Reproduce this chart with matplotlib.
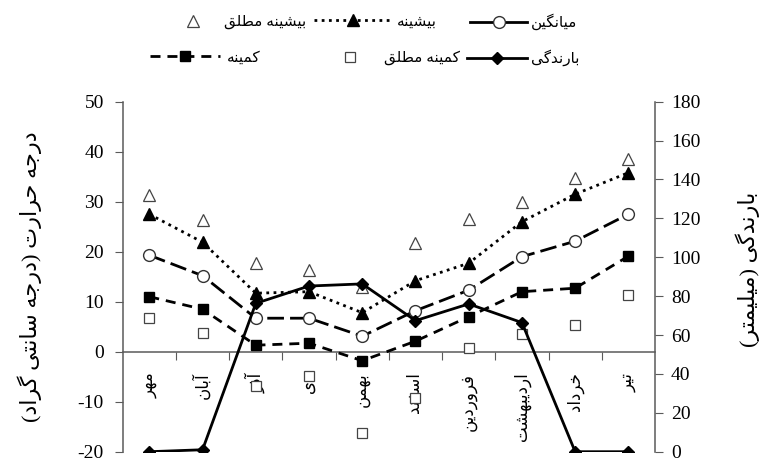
import matplotlib
matplotlib.use("Agg")
import matplotlib.pyplot as plt
from matplotlib.lines import Line2D

# Monthly climate data (temperatures in deg C, rainfall in mm)
months = ['مهر', 'آبان', 'آذر', 'دی', 'بهمن', 'اسفند', 'فروردین', 'اردیبهشت', 'خرداد', 'تیر']
abs_max = [31.3, 26.3, 17.8, 16.3, 13.0, 21.8, 26.5, 30.0, 34.8, 38.5]
t_max = [27.5, 21.9, 11.7, 12.0, 7.8, 14.2, 17.7, 26.0, 31.5, 35.8]
t_mean = [19.3, 15.2, 6.7, 6.7, 3.1, 8.2, 12.3, 19.0, 22.1, 27.5]
t_min = [11.0, 8.5, 1.3, 1.7, -1.8, 2.1, 7.0, 12.0, 12.7, 19.1]
abs_min = [6.8, 3.8, -6.9, -4.8, -16.3, -9.3, 0.8, 3.5, 5.3, 11.3]
rain = [0, 1, 76.3, 85.2, 86.3, 67.4, 76.0, 66.4, 0, 0]

left_title = 'درجه حرارت (درجه سانتی گراد)'
right_title = 'بارندگی (میلیمتر)'
names = ['میانگین', 'بیشینه', 'بیشینه مطلق', 'بارندگی', 'کمینه مطلق', 'کمینه']

# matplotlib does no arabic shaping, so pick presentation forms by hand
FORMS = {
    'ا': (0xFE8D, 0xFE8E), 'آ': (0xFE81, 0xFE82),
    'ب': (0xFE8F, 0xFE90, 0xFE91, 0xFE92), 'ت': (0xFE95, 0xFE96, 0xFE97, 0xFE98),
    'ج': (0xFE9D, 0xFE9E, 0xFE9F, 0xFEA0), 'ح': (0xFEA1, 0xFEA2, 0xFEA3, 0xFEA4),
    'خ': (0xFEA5, 0xFEA6, 0xFEA7, 0xFEA8), 'د': (0xFEA9, 0xFEAA),
    'ذ': (0xFEAB, 0xFEAC), 'ر': (0xFEAD, 0xFEAE), 'ز': (0xFEAF, 0xFEB0),
    'س': (0xFEB1, 0xFEB2, 0xFEB3, 0xFEB4), 'ش': (0xFEB5, 0xFEB6, 0xFEB7, 0xFEB8),
    'ط': (0xFEC1, 0xFEC2, 0xFEC3, 0xFEC4), 'ف': (0xFED1, 0xFED2, 0xFED3, 0xFED4),
    'ق': (0xFED5, 0xFED6, 0xFED7, 0xFED8), 'ک': (0xFB8E, 0xFB8F, 0xFB90, 0xFB91),
    'گ': (0xFB92, 0xFB93, 0xFB94, 0xFB95), 'ل': (0xFEDD, 0xFEDE, 0xFEDF, 0xFEE0),
    'م': (0xFEE1, 0xFEE2, 0xFEE3, 0xFEE4), 'ن': (0xFEE5, 0xFEE6, 0xFEE7, 0xFEE8),
    'ه': (0xFEE9, 0xFEEA, 0xFEEB, 0xFEEC), 'و': (0xFEED, 0xFEEE),
    'ی': (0xFBFC, 0xFBFD, 0xFBFE, 0xFBFF),
}


def fa(text):
    out = []
    for i, c in enumerate(text):
        f = FORMS.get(c)
        if f is None:
            out.append(c)
            continue
        prev = text[i - 1] if i > 0 else None
        nxt = text[i + 1] if i + 1 < len(text) else None
        jp = prev in FORMS and len(FORMS[prev]) == 4
        jn = len(f) == 4 and nxt in FORMS
        if jp and jn:
            g = f[3]
        elif jn:
            g = f[2]
        elif jp:
            g = f[1]
        else:
            g = f[0]
        out.append(chr(g))
    s = ''.join(reversed(out))
    return s.translate(str.maketrans('()', ')('))


plt.rcParams['font.family'] = ['Liberation Serif', 'DejaVu Sans']
plt.rcParams['axes.unicode_minus'] = False
W, H = 768, 461
fig = plt.figure(figsize=(W / 100, H / 100), dpi=100)
ax = fig.add_axes([122.7 / W, 1 - 451.7 / H, 532.3 / W, 350 / H])
ax2 = ax.twinx()

x = list(range(len(months)))
gray = '#5a5a5a'

ax.plot(x, t_max, color='black', lw=2, linestyle=(0, (1, 1.6)), marker='^',
        ms=8, mfc='black', mec='black', zorder=3)
ax.plot(x, t_mean, color='black', lw=2, linestyle=(0, (6, 2.2)), marker='o',
        ms=8.5, mfc='white', mec='#333333', mew=1, zorder=3)
ax.plot(x, t_min, color='black', lw=2, linestyle=(0, (3.6, 2.5)), marker='s',
        ms=7, mfc='black', mec='black', zorder=3)
ax.plot(x, abs_max, linestyle='none', marker='^', ms=8.5, mfc='white',
        mec='#444444', mew=0.9, zorder=3)
ax.plot(x, abs_min, linestyle='none', marker='s', ms=7, mfc='white',
        mec='#444444', mew=0.9, zorder=3)
ax2.plot(x, rain, color='black', lw=2, marker='D', ms=6, mfc='black', zorder=3)

ax.set_xlim(-0.5, len(months) - 0.5)
ax.set_ylim(-20, 50)
ax.set_yticks(range(-20, 51, 10))
ax2.set_ylim(0, 180)
ax2.set_yticks(range(0, 181, 20))

for s in ['top', 'right']:
    ax.spines[s].set_visible(False)
for s in ['top', 'left', 'bottom']:
    ax2.spines[s].set_visible(False)
ax.spines['bottom'].set_position(('data', 0))
for sp in [ax.spines['left'], ax.spines['bottom'], ax2.spines['right']]:
    sp.set_color(gray)
    sp.set_linewidth(1.1)

ax.set_xticks([i + 0.5 for i in x[:-1]])
ax.set_xticklabels([])
ax.set_xticks(x, [fa(m) for m in months], minor=True, rotation=90, fontsize=12)
ax.tick_params(axis='x', which='major', direction='out', length=6, color=gray)
ax.tick_params(axis='x', which='minor', length=0, pad=15)
ax.tick_params(axis='y', direction='out', length=5.5, color=gray, labelsize=14, pad=8)
ax2.tick_params(axis='y', direction='out', length=5.5, color=gray, labelsize=14, pad=6)
ax2.tick_params(axis='x', bottom=False, labelbottom=False)

ax.set_ylabel(fa(left_title), fontsize=16, va='center')
ax.yaxis.set_label_coords((30 - 122.7) / 532.3, 0.5)
ax2.set_ylabel(fa(right_title), fontsize=16, va='center', rotation=90)
ax2.yaxis.set_label_coords((748 - 122.7) / 532.3, 0.52)

# legend: one small legend per entry so the RTL layout can be matched
handles = [
    Line2D([], [], color='black', lw=2, marker='o', ms=8.5, mfc='white', mec='#333333'),
    Line2D([], [], color='black', lw=2, linestyle=(0, (1, 1.6)), marker='^', ms=8),
    Line2D([], [], linestyle='none', marker='^', ms=8.5, mfc='white', mec='#444444', mew=0.9),
    Line2D([], [], color='black', lw=2, marker='D', ms=6),
    Line2D([], [], linestyle='none', marker='s', ms=7, mfc='white', mec='#444444', mew=0.9),
    Line2D([], [], color='black', lw=2, linestyle=(0, (3.6, 2.5)), marker='s', ms=7),
]
# handle start, row y, handle length, label start (pixels)
slots = [(470, 22, 57, 531), (314, 22, 78, 397), (163, 22, 60, 224),
         (467, 58, 60, 531), (320, 58, 60, 384), (150, 58, 70, 227)]
fs = 11
em = fs * 100 / 72
for h, name, (x0, y0, hl, lx) in zip(handles, names, slots):
    fig.legend([h], [fa(name)], loc='center left', bbox_to_anchor=(x0 / W, 1 - y0 / H),
               frameon=False, fontsize=fs, borderpad=0, borderaxespad=0,
               handlelength=hl / em, handletextpad=(lx - x0 - hl) / em)

fig.savefig('out.png', dpi=100)
